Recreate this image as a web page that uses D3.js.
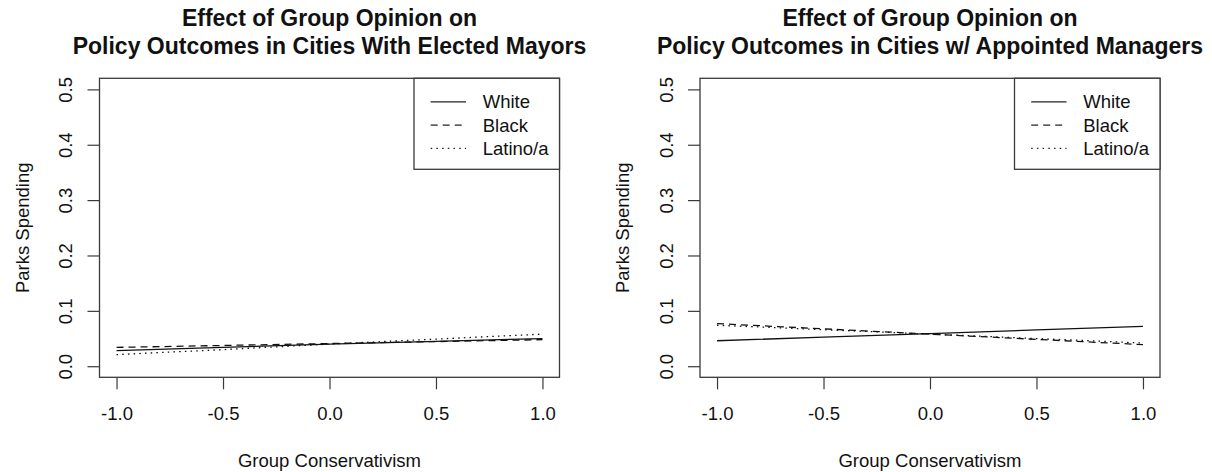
<!DOCTYPE html>
<html>
<head>
<meta charset="utf-8">
<script src="https://cdn.jsdelivr.net/npm/d3@7"></script>
<style>
  html, body { margin: 0; padding: 0; background: #fff; }
  svg { display: block; }
  text { font-family: "Liberation Sans", Arial, Helvetica, sans-serif; fill: #111; }
</style>
</head>
<body>
<svg id="chart" width="1212" height="472"></svg>
<script>
// Group conservativism values at which predictions are shown
const conservativism = [-1.0, -0.5, 0.0, 0.5, 1.0];

// Predicted parks spending, cities with elected mayors
const mayorWhite  = [0.028, 0.034, 0.040, 0.045, 0.050];
const mayorBlack  = [0.034, 0.0375, 0.041, 0.0445, 0.048];
const mayorLatino = [0.021, 0.030, 0.040, 0.049, 0.058];

// Predicted parks spending, cities with appointed managers
const managerWhite  = [0.046, 0.0525, 0.059, 0.0655, 0.072];
const managerBlack  = [0.077, 0.0675, 0.058, 0.0485, 0.039];
const managerLatino = [0.074, 0.066, 0.058, 0.050, 0.042];

const groups = ["White", "Black", "Latino/a"];
const xTicks = [-1.0, -0.5, 0.0, 0.5, 1.0];
const yTicks = [0.0, 0.1, 0.2, 0.3, 0.4, 0.5];

const titleLine1 = "Effect of Group Opinion on";
const mayorTitle = "Policy Outcomes in Cities With Elected Mayors";
const managerTitle = "Policy Outcomes in Cities w/ Appointed Managers";
const xLabel = "Group Conservativism";
const yLabel = "Parks Spending";

const dashes = { "White": null, "Black": "7,5", "Latino/a": "1.5,4.2" };

const svg = d3.select("#chart");

const panels = [
  { left: 99.5, title: mayorTitle, series: [mayorWhite, mayorBlack, mayorLatino] },
  { left: 700, title: managerTitle, series: [managerWhite, managerBlack, managerLatino] }
];

const boxW = 460, boxTop = 78.3, boxBottom = 377.3;
const axisColor = "#3a3a3a";

panels.forEach(p => {
  const g = svg.append("g");
  const x = d3.scaleLinear().domain([-1.08, 1.08]).range([p.left, p.left + boxW]);
  const y = d3.scaleLinear().domain([-0.02, 0.52]).range([boxBottom, boxTop]);
  const cx = p.left + boxW / 2;

  // titles
  g.append("text").attr("x", cx).attr("y", 26).attr("text-anchor", "middle")
    .style("font-size", "23px").style("font-weight", "bold").text(titleLine1);
  g.append("text").attr("x", cx).attr("y", 54).attr("text-anchor", "middle")
    .style("font-size", "23px").style("font-weight", "bold").text(p.title);

  // x axis
  const xa = g.append("g").attr("transform", `translate(0,${boxBottom})`)
    .call(d3.axisBottom(x).tickValues(xTicks).tickFormat(d3.format(".1f"))
      .tickSizeInner(12).tickSizeOuter(0).tickPadding(18));
  xa.select(".domain").remove();
  xa.selectAll("line").attr("stroke", axisColor).attr("stroke-width", 1.2);
  xa.selectAll("text").style("font-size", "18.5px").attr("fill", "#111");
  xa.selectAll("text").text(d => d3.format(".1f")(d).replace("−", "-"));

  // y axis
  const ya = g.append("g").attr("transform", `translate(${p.left},0)`)
    .call(d3.axisLeft(y).tickValues(yTicks).tickFormat(d3.format(".1f"))
      .tickSizeInner(12).tickSizeOuter(0));
  ya.select(".domain").remove();
  ya.selectAll("line").attr("stroke", axisColor).attr("stroke-width", 1.2);
  ya.selectAll("text").style("font-size", "18.5px").attr("fill", "#111")
    .attr("x", null).attr("dy", null)
    .attr("text-anchor", "middle")
    .attr("transform", "translate(-27.5,0) rotate(-90)");

  // axis titles
  g.append("text").attr("x", cx).attr("y", 467).attr("text-anchor", "middle")
    .style("font-size", "18.5px").text(xLabel);
  g.append("text").attr("text-anchor", "middle")
    .attr("transform", `translate(${p.left - 71},${(boxTop + boxBottom) / 2}) rotate(-90)`)
    .style("font-size", "18.5px").text(yLabel);

  // prediction lines
  const line = d3.line().x((d, i) => x(conservativism[i])).y(d => y(d));
  p.series.forEach((vals, k) => {
    g.append("path").datum(vals).attr("d", line)
      .attr("fill", "none").attr("stroke", "#111").attr("stroke-width", 1.3)
      .attr("stroke-dasharray", dashes[groups[k]]);
  });

  // plot box
  g.append("rect").attr("x", p.left).attr("y", boxTop)
    .attr("width", boxW).attr("height", boxBottom - boxTop)
    .attr("fill", "none").attr("stroke", axisColor).attr("stroke-width", 1.3);

  // legend
  const lgW = 145.5, lgH = 91, lgX = p.left + boxW - lgW;
  const lg = g.append("g").attr("transform", `translate(${lgX},${boxTop})`);
  lg.append("rect").attr("width", lgW).attr("height", lgH)
    .attr("fill", "#fff").attr("stroke", axisColor).attr("stroke-width", 1.3);
  groups.forEach((name, k) => {
    const ry = 23.5 + k * 23.3;
    lg.append("line").attr("x1", 16.7).attr("x2", 52).attr("y1", ry).attr("y2", ry)
      .attr("stroke", "#222").attr("stroke-width", 1.3)
      .attr("stroke-dasharray", dashes[name]);
    lg.append("text").attr("x", 68.7).attr("y", ry + 6.5)
      .style("font-size", "18.5px").text(name);
  });
});
</script>
</body>
</html>
